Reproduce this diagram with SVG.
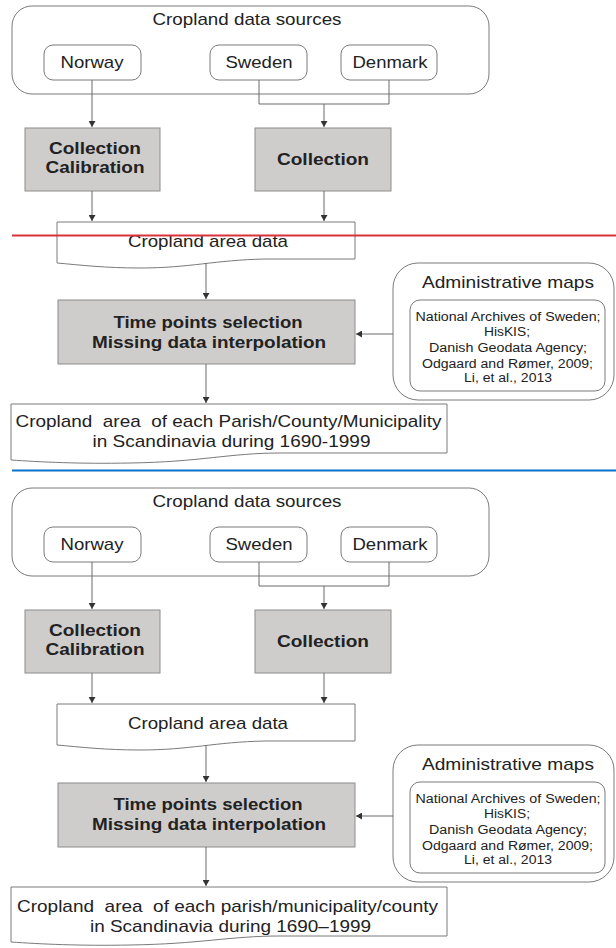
<svg xmlns="http://www.w3.org/2000/svg" width="616" height="948" viewBox="0 0 616 948">
  <style>
    .frame { fill: #ffffff; stroke: #7a7a7a; stroke-width: 1; }
    .proc { fill: #cfcdcc; stroke: #8c8c8c; stroke-width: 1; }
    .wire { fill: none; stroke: #6a6a6a; stroke-width: 1; }
    .t { font-family: "Liberation Sans", Arial, sans-serif; fill: #222222; text-anchor: middle; }
    .lg { font-size: 17px; }
    .bd { font-size: 16px; font-weight: bold; }
    .sm { font-size: 12px; }
    .pre { white-space: pre; }
  </style>
  <defs>
    <marker id="arrow" viewBox="0 0 6 7" refX="6" refY="3.5" markerWidth="6" markerHeight="7" markerUnits="userSpaceOnUse" orient="auto">
      <path d="M0,0 L6,3.5 L0,7 Z" fill="#333333"/>
    </marker>
  </defs>

  <!-- ===== Upper flowchart ===== -->
  <g id="upper">
    <g id="a-sources">
      <rect class="frame" x="12" y="6" width="477" height="88" rx="20"/>
      <text class="t lg" x="247" y="25" textLength="189" lengthAdjust="spacingAndGlyphs">Cropland data sources</text>
    </g>
    <g id="a-norway">
      <rect class="frame" x="44" y="45" width="97" height="35" rx="9"/>
      <text class="t lg" x="92" y="68" textLength="63" lengthAdjust="spacingAndGlyphs">Norway</text>
    </g>
    <g id="a-sweden">
      <rect class="frame" x="210" y="45" width="97" height="35" rx="9"/>
      <text class="t lg" x="259" y="68" textLength="67" lengthAdjust="spacingAndGlyphs">Sweden</text>
    </g>
    <g id="a-denmark">
      <rect class="frame" x="341" y="45" width="96" height="35" rx="9"/>
      <text class="t lg" x="390" y="68" textLength="75" lengthAdjust="spacingAndGlyphs">Denmark</text>
    </g>
    <g id="a-calib">
      <rect class="proc" x="25" y="128" width="135" height="63"/>
      <text class="t bd" x="95" y="154" textLength="92" lengthAdjust="spacingAndGlyphs">Collection</text>
      <text class="t bd" x="95" y="173" textLength="99" lengthAdjust="spacingAndGlyphs">Calibration</text>
    </g>
    <g id="a-collection">
      <rect class="proc" x="255" y="128" width="136" height="63"/>
      <text class="t bd" x="323" y="165" textLength="92" lengthAdjust="spacingAndGlyphs">Collection</text>
    </g>
    <g id="a-area">
      <path class="frame" d="M57,222 H355 V259 H265 C215,260 190,268 140,268 C105,268 80,265 57,263 Z"/>
      <text class="t lg" x="208" y="246.5" textLength="160" lengthAdjust="spacingAndGlyphs">Cropland area data</text>
    </g>
    <g id="a-process">
      <rect class="proc" x="58" y="300" width="297" height="64"/>
      <text class="t bd" x="208" y="328" textLength="189" lengthAdjust="spacingAndGlyphs">Time points selection</text>
      <text class="t bd" x="209" y="347.5" textLength="234" lengthAdjust="spacingAndGlyphs">Missing data interpolation</text>
    </g>
    <g id="a-maps">
      <rect class="frame" x="393" y="263" width="221" height="137" rx="25"/>
      <text class="t lg" x="508" y="288" textLength="172" lengthAdjust="spacingAndGlyphs">Administrative maps</text>
      <rect class="frame" x="410" y="300" width="195" height="91" rx="10"/>
      <text class="t sm" x="508" y="321" textLength="185" lengthAdjust="spacingAndGlyphs">National Archives of Sweden;</text>
      <text class="t sm" x="507" y="336" textLength="46" lengthAdjust="spacingAndGlyphs">HisKIS;</text>
      <text class="t sm" x="508" y="352" textLength="158" lengthAdjust="spacingAndGlyphs">Danish Geodata Agency;</text>
      <text class="t sm" x="507.5" y="367.5" textLength="171" lengthAdjust="spacingAndGlyphs">Odgaard and Rømer, 2009;</text>
      <text class="t sm" x="508" y="381.5" textLength="88" lengthAdjust="spacingAndGlyphs">Li, et al., 2013</text>
    </g>
    <g id="a-output">
      <path class="frame" d="M11,404 H447 V453 H280 C230,453 200,462 130,463 C80,464 40,462 11,460 Z"/>
      <text class="t lg pre" x="228.5" y="426.5" textLength="426" lengthAdjust="spacingAndGlyphs">Cropland  area  of each Parish/County/Municipality</text>
      <text class="t lg" x="231.5" y="446.5" textLength="278" lengthAdjust="spacingAndGlyphs">in Scandinavia during 1690-1999</text>
    </g>
    <g id="a-connectors">
      <path class="wire" d="M92,80 V127" marker-end="url(#arrow)"/>
      <path class="wire" d="M259,80 V104 H389 V80"/>
      <path class="wire" d="M324,104 V127" marker-end="url(#arrow)"/>
      <path class="wire" d="M92,191 V221" marker-end="url(#arrow)"/>
      <path class="wire" d="M324,191 V221" marker-end="url(#arrow)"/>
      <path class="wire" d="M206,263 V299" marker-end="url(#arrow)"/>
      <path class="wire" d="M206,364 V403" marker-end="url(#arrow)"/>
      <path class="wire" d="M393,334 H356" marker-end="url(#arrow)"/>
    </g>
  </g>

  <!-- ===== Lower flowchart ===== -->
  <g id="lower" transform="translate(0,482)">
    <g id="b-sources">
      <rect class="frame" x="12" y="6" width="477" height="88" rx="20"/>
      <text class="t lg" x="247" y="25" textLength="189" lengthAdjust="spacingAndGlyphs">Cropland data sources</text>
    </g>
    <g id="b-norway">
      <rect class="frame" x="44" y="45" width="97" height="35" rx="9"/>
      <text class="t lg" x="92" y="68" textLength="63" lengthAdjust="spacingAndGlyphs">Norway</text>
    </g>
    <g id="b-sweden">
      <rect class="frame" x="210" y="45" width="97" height="35" rx="9"/>
      <text class="t lg" x="259" y="68" textLength="67" lengthAdjust="spacingAndGlyphs">Sweden</text>
    </g>
    <g id="b-denmark">
      <rect class="frame" x="341" y="45" width="96" height="35" rx="9"/>
      <text class="t lg" x="390" y="68" textLength="75" lengthAdjust="spacingAndGlyphs">Denmark</text>
    </g>
    <g id="b-calib">
      <rect class="proc" x="25" y="128" width="135" height="63"/>
      <text class="t bd" x="95" y="154" textLength="92" lengthAdjust="spacingAndGlyphs">Collection</text>
      <text class="t bd" x="95" y="173" textLength="99" lengthAdjust="spacingAndGlyphs">Calibration</text>
    </g>
    <g id="b-collection">
      <rect class="proc" x="255" y="128" width="136" height="63"/>
      <text class="t bd" x="323" y="165" textLength="92" lengthAdjust="spacingAndGlyphs">Collection</text>
    </g>
    <g id="b-area">
      <path class="frame" d="M57,222 H355 V259 H265 C215,260 190,268 140,268 C105,268 80,265 57,263 Z"/>
      <text class="t lg" x="208" y="246.5" textLength="160" lengthAdjust="spacingAndGlyphs">Cropland area data</text>
    </g>
    <g id="b-process">
      <rect class="proc" x="58" y="301" width="297" height="64"/>
      <text class="t bd" x="208" y="328" textLength="189" lengthAdjust="spacingAndGlyphs">Time points selection</text>
      <text class="t bd" x="209" y="347.5" textLength="234" lengthAdjust="spacingAndGlyphs">Missing data interpolation</text>
    </g>
    <g id="b-maps">
      <rect class="frame" x="393" y="263" width="221" height="137" rx="25"/>
      <text class="t lg" x="508" y="288" textLength="172" lengthAdjust="spacingAndGlyphs">Administrative maps</text>
      <rect class="frame" x="410" y="300" width="195" height="91" rx="10"/>
      <text class="t sm" x="508" y="321" textLength="185" lengthAdjust="spacingAndGlyphs">National Archives of Sweden;</text>
      <text class="t sm" x="507" y="336" textLength="46" lengthAdjust="spacingAndGlyphs">HisKIS;</text>
      <text class="t sm" x="508" y="352" textLength="158" lengthAdjust="spacingAndGlyphs">Danish Geodata Agency;</text>
      <text class="t sm" x="507.5" y="367.5" textLength="171" lengthAdjust="spacingAndGlyphs">Odgaard and Rømer, 2009;</text>
      <text class="t sm" x="508" y="381.5" textLength="88" lengthAdjust="spacingAndGlyphs">Li, et al., 2013</text>
    </g>
    <g id="b-output">
      <path class="frame" d="M11,405 H447 V454 H280 C230,454 200,462 130,463 C80,464 40,462 11,460 Z"/>
      <text class="t lg pre" x="227.5" y="430" textLength="421" lengthAdjust="spacingAndGlyphs">Cropland  area  of each parish/municipality/county</text>
      <text class="t lg" x="230.5" y="450" textLength="281" lengthAdjust="spacingAndGlyphs">in Scandinavia during 1690–1999</text>
    </g>
    <g id="b-connectors">
      <path class="wire" d="M92,80 V127" marker-end="url(#arrow)"/>
      <path class="wire" d="M259,80 V104 H389 V80"/>
      <path class="wire" d="M324,104 V127" marker-end="url(#arrow)"/>
      <path class="wire" d="M92,191 V221" marker-end="url(#arrow)"/>
      <path class="wire" d="M324,191 V221" marker-end="url(#arrow)"/>
      <path class="wire" d="M206,263 V300" marker-end="url(#arrow)"/>
      <path class="wire" d="M206,365 V404" marker-end="url(#arrow)"/>
      <path class="wire" d="M393,334 H356" marker-end="url(#arrow)"/>
    </g>
  </g>

  <!-- separator rules -->
  <g id="rules">
    <line x1="12" y1="235.5" x2="616" y2="235.5" stroke="#d8323c" stroke-width="2"/>
    <line x1="12" y1="470.5" x2="616" y2="470.5" stroke="#0a70c8" stroke-width="2"/>
  </g>
</svg>
